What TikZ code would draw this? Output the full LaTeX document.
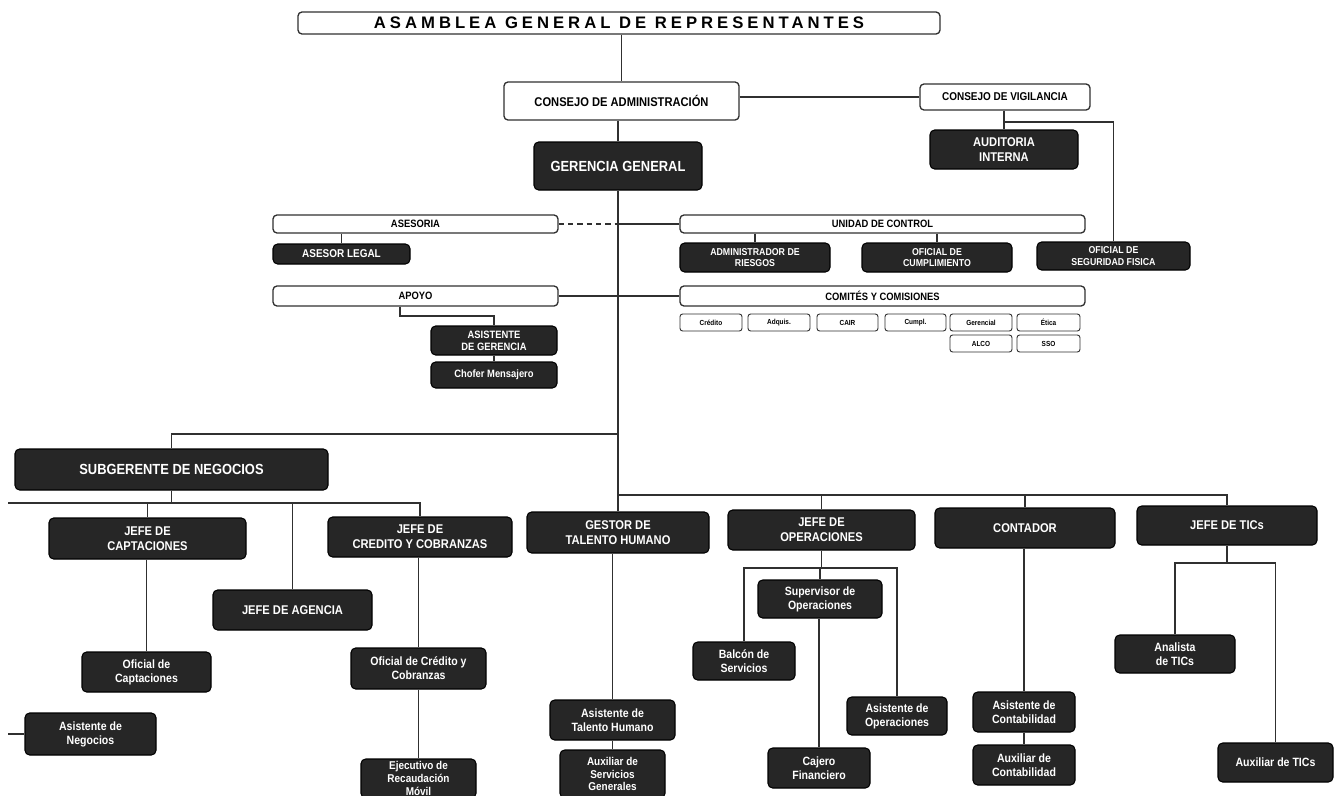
\documentclass[tikz,border=0pt]{standalone}
\usepackage{fontspec}
\setmainfont{Liberation Sans}[FakeStretch=0.88]
\newfontfamily\widefont{Liberation Sans}[LetterSpace=24]
\definecolor{boxfill}{HTML}{262626}
\definecolor{linec}{HTML}{303030}
\newcommand{\bx}[7]{%
 \pgfmathsetmacro{\bxcx}{(#3+#5)/2}%
 \pgfmathsetmacro{\bxcy}{(#4+#6)/2}%
 \pgfmathsetmacro{\bxw}{(#5-#3)*0.75}%
 \pgfmathsetmacro{\bxh}{(#6-#4)*0.75}%
 \node[#2, minimum width=\bxw pt, minimum height=\bxh pt] (#1) at (\bxcx,\bxcy) {#7};}
\begin{document}
\begin{tikzpicture}[x=0.75pt,y=-0.75pt,
 wbox/.style={draw=linec, fill=white, rounded corners=3pt, line width=1pt, inner sep=0pt, align=center, text=black, font=\bfseries\fontsize{8}{9}\selectfont},
 cbox/.style={wbox, line width=0.7pt, rounded corners=2pt, font=\bfseries\fontsize{5.5}{6}\selectfont},
 dark/.style={draw=black, fill=boxfill, text=white, rounded corners=3.5pt, line width=0.8pt, inner sep=0pt, align=center, font=\bfseries\fontsize{9}{10}\selectfont},
 fBig/.style={font=\bfseries\fontsize{11}{12}\selectfont},
 fJefe/.style={font=\bfseries\fontsize{9.5}{11}\selectfont},
 fSm/.style={font=\bfseries\fontsize{9}{10.5}\selectfont},
 fUp/.style={font=\bfseries\fontsize{7.5}{8.5}\selectfont},
 fMid/.style={font=\bfseries\fontsize{8}{9}\selectfont},
 line/.style={draw=linec, line width=1.1pt}]
\useasboundingbox (0,0) rectangle (1343,796);
\fill[white] (0,0) rectangle (1343,796);
% top
\bx{asam}{wbox, font=\widefont\bfseries\fontsize{12.5}{13}\selectfont}{298}{12}{940}{34}{ASAMBLEA GENERAL DE REPRESENTANTES}
\bx{ca}{wbox, font=\bfseries\fontsize{9.5}{10}\selectfont}{504}{82}{739}{120}{CONSEJO DE ADMINISTRACIÓN}
\bx{cv}{wbox, font=\bfseries\fontsize{8.5}{9}\selectfont}{920}{84}{1090}{110}{CONSEJO DE VIGILANCIA}
\bx{gg}{dark, font=\bfseries\fontsize{11}{12}\selectfont}{534}{142}{702}{190}{GERENCIA GENERAL}
\bx{ai}{dark, fJefe}{930}{130}{1078}{169}{AUDITORIA\\INTERNA}
\bx{osf}{dark, fUp}{1037}{242}{1190}{270}{OFICIAL DE\\SEGURIDAD FISICA}
% staff
\bx{asesoria}{wbox}{273}{215}{558}{233}{ASESORIA}
\bx{unidad}{wbox}{680}{215}{1085}{233}{UNIDAD DE CONTROL}
\bx{asl}{dark, font=\bfseries\fontsize{8.5}{9}\selectfont}{273}{244}{410}{264}{ASESOR LEGAL}
\bx{adm}{dark, fUp}{680}{243}{830}{272}{ADMINISTRADOR DE\\RIESGOS}
\bx{ocu}{dark, fUp}{862}{243}{1012}{272}{OFICIAL DE\\CUMPLIMIENTO}
\bx{apoyo}{wbox}{273}{286}{558}{306}{APOYO}
\bx{com}{wbox}{680}{286}{1085}{306}{COMITÉS Y COMISIONES}
\bx{c1}{cbox}{680}{314}{742}{331}{Crédito}
\bx{c2}{cbox}{748}{314}{810}{331}{Adquis.}
\bx{c3}{cbox}{817}{314}{878}{331}{CAIR}
\bx{c4}{cbox}{885}{314}{946}{331}{Cumpl.}
\bx{c5}{cbox}{950}{314}{1012}{331}{Gerencial}
\bx{c6}{cbox}{1017}{314}{1080}{331}{Ética}
\bx{c7}{cbox}{950}{335}{1012}{352}{ALCO}
\bx{c8}{cbox}{1017}{335}{1080}{352}{SSO}
\bx{asg}{dark, fMid}{431}{326}{557}{355}{ASISTENTE\\DE GERENCIA}
\bx{cho}{dark, fMid}{431}{362}{557}{388}{Chofer Mensajero}
% business
\bx{sub}{dark, fBig}{15}{449}{328}{490}{SUBGERENTE DE NEGOCIOS}
\bx{jcap}{dark, fJefe}{49}{518}{246}{559}{JEFE DE\\CAPTACIONES}
\bx{jag}{dark, fJefe}{213}{590}{372}{630}{JEFE DE AGENCIA}
\bx{jcr}{dark, fJefe}{328}{517}{512}{557}{JEFE DE\\CREDITO Y COBRANZAS}
\bx{ocap}{dark, fSm}{82}{652}{211}{692}{Oficial de\\Captaciones}
\bx{asn}{dark, fSm}{25}{713}{156}{755}{Asistente de\\Negocios}
\bx{ocr}{dark, fSm}{351}{648}{486}{689}{Oficial de Crédito y\\Cobranzas}
\bx{eje}{dark, font=\bfseries\fontsize{8.5}{9.5}\selectfont}{361}{759}{476}{798}{Ejecutivo de\\Recaudación\\Móvil}
% departments
\bx{gth}{dark, fJefe}{527}{512}{709}{553}{GESTOR DE\\TALENTO HUMANO}
\bx{ath}{dark, fSm}{550}{700}{675}{740}{Asistente de\\Talento Humano}
\bx{aux}{dark, font=\bfseries\fontsize{8.5}{9.5}\selectfont}{560}{750}{665}{798}{Auxiliar de\\Servicios\\Generales}
\bx{ops}{dark, fJefe}{728}{510}{915}{550}{JEFE DE\\OPERACIONES}
\bx{sup}{dark, fSm}{758}{580}{882}{618}{Supervisor de\\Operaciones}
\bx{bal}{dark, fSm}{693}{642}{795}{680}{Balcón de\\Servicios}
\bx{aop}{dark, fSm}{847}{697}{947}{735}{Asistente de\\Operaciones}
\bx{caj}{dark, fSm}{768}{748}{870}{788}{Cajero\\Financiero}
\bx{con}{dark, fJefe}{935}{508}{1115}{548}{CONTADOR}
\bx{acon}{dark, fSm}{973}{692}{1075}{732}{Asistente de\\Contabilidad}
\bx{xcon}{dark, fSm}{973}{745}{1075}{785}{Auxiliar de\\Contabilidad}
\bx{tic}{dark, fJefe}{1137}{506}{1317}{545}{JEFE DE TICs}
\bx{ana}{dark, fSm}{1115}{635}{1235}{673}{Analista\\de TICs}
\bx{xtic}{dark, fSm}{1218}{743}{1333}{782}{Auxiliar de TICs}
% connectors
\draw[line] (ca.north |- asam.south) -- (ca.north);
\draw[line] (ca.east |- cv.west) -- (cv.west);
\draw[line] (gg.north |- ca.south) -- (gg.north);
\draw[line] (ai.north |- cv.south) -- (ai.north);
\coordinate (j1) at (ai.north |- 0,122);
\draw[line] (j1) -| (osf.north);
\draw[line] (gg.south) -- (gth.north);
\coordinate (tA) at (gg.south |- asesoria.east);
\draw[line, dash pattern=on 4pt off 3pt] (asesoria.east) -- (tA);
\draw[line] (tA) -- (unidad.west);
\draw[line] (apoyo.east) -- (com.west);
\draw[line] (asesoria.south -| asl.north) -- (asl.north);
\draw[line] (adm.north |- unidad.south) -- (adm.north);
\draw[line] (ocu.north |- unidad.south) -- (ocu.north);
\coordinate (ap1) at (400,316);
\draw[line] (apoyo.south -| ap1) -- (ap1) -| (asg.north);
\draw[line] (asg.south) -- (cho.north);
\coordinate (tB) at (gg.south |- 0,434);
\draw[line] (tB) -| (sub.north);
\coordinate (bL) at (8,503);
\coordinate (bR) at (jcr.north |- bL);
\draw[line] (bL) -- (bR) -- (jcr.north);
\draw[line] (sub.south) -- (sub.south |- bL);
\draw[line] (jcap.north |- bL) -- (jcap.north);
\draw[line] (jag.north |- bL) -- (jag.north);
\draw[line] (ocap.north |- jcap.south) -- (ocap.north);
\coordinate (aL) at (asn.west -| bL);
\draw[line] (aL) -- (asn.west);
\draw[line] (ocr.north |- jcr.south) -- (ocr.north);
\draw[line] (ocr.south) -- (eje.north);
\coordinate (tC) at (gg.south |- 0,495);
\draw[line] (tC) -- (tic.north |- tC) -- (tic.north);
\draw[line] (ops.north |- tC) -- (ops.north);
\draw[line] (con.north |- tC) -- (con.north);
\draw[line] (ath.north |- gth.south) -- (ath.north);
\draw[line] (ath.south) -- (aux.north);
\coordinate (o1) at (ops.south |- 0,568);
\draw[line] (ops.south) -- (o1);
\draw[line] (bal.north) |- (aop.north |- o1) -- (aop.north);
\draw[line] (sup.north |- o1) -- (sup.north);
\draw[line] (caj.north |- sup.south) -- (caj.north);
\draw[line] (acon.north |- con.south) -- (acon.north);
\draw[line] (acon.south) -- (xcon.north);
\coordinate (t1) at (tic.south |- 0,563);
\draw[line] (tic.south) -- (t1);
\draw[line] (ana.north) |- (xtic.north |- t1) -- (xtic.north);
\end{tikzpicture}
\end{document}
